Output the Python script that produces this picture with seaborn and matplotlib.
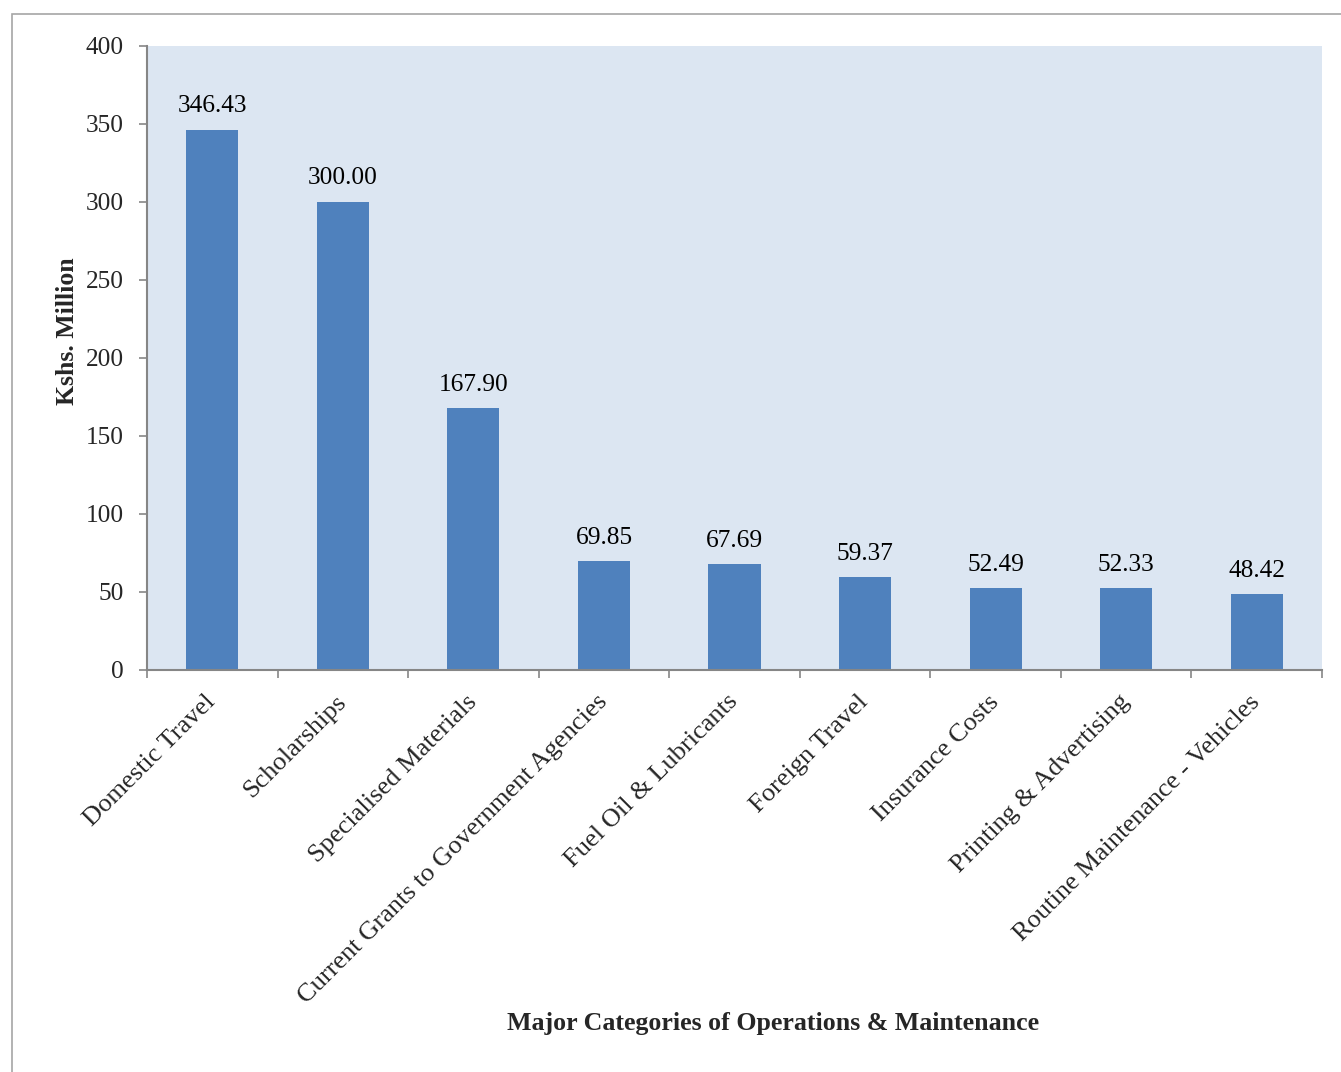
import matplotlib
matplotlib.use("Agg")
import matplotlib.pyplot as plt
from matplotlib.patches import Rectangle
import numpy as np
import pandas as pd
import seaborn as sns

categories = [
    "Domestic Travel",
    "Scholarships",
    "Specialised Materials",
    "Current Grants to Government Agencies",
    "Fuel Oil & Lubricants",
    "Foreign Travel",
    "Insurance Costs",
    "Printing & Advertising",
    "Routine Maintenance - Vehicles",
]
values = [346.43, 300.00, 167.90, 69.85, 67.69, 59.37, 52.49, 52.33, 48.42]
y_ticks = [0, 50, 100, 150, 200, 250, 300, 350, 400]

df = pd.DataFrame({"category": categories, "value": values})

sns.set_theme(style="white")
plt.rcParams["font.family"] = ["Liberation Serif", "DejaVu Serif"]

W, H = 1341, 1072
fig = plt.figure(figsize=(W / 100, H / 100), dpi=100)
fig.patch.set_facecolor("white")

# outer frame of the chart area
fig.patches.append(Rectangle((12 / W, -0.1), 1.2, (H - 14) / H + 0.1,
                             transform=fig.transFigure, fill=False,
                             edgecolor="#A6A6A6", linewidth=1.2, zorder=0))

ax = fig.add_axes([147 / W, (H - 670) / H, (1322 - 147) / W, (670 - 46) / H])
ax.set_facecolor("#DCE6F2")

sns.barplot(data=df, x="category", y="value", color="#4F81BD", saturation=1,
            width=0.4, ax=ax, edgecolor="none")

for i, v in enumerate(values):
    ax.annotate(f"{v:.2f}", (i, v), xytext=(0, 9), textcoords="offset points",
                ha="center", va="bottom", fontsize=18.3, color="black")

ax.set_xlim(-0.5, len(categories) - 0.5)
ax.set_ylim(0, 400)
ax.set_yticks(y_ticks)
ax.set_yticklabels([str(t) for t in y_ticks], fontsize=18.3)

gray = "#868686"
for side in ["top", "right"]:
    ax.spines[side].set_visible(False)
for side in ["left", "bottom"]:
    ax.spines[side].set_color(gray)
    ax.spines[side].set_linewidth(1.5)

ax.tick_params(axis="y", which="major", direction="out", length=6, width=1.2,
               color=gray, pad=10.5, left=True)
ax.set_xticks(np.arange(len(categories)))
ax.set_xticklabels(categories, rotation=45, ha="right", va="center",
                   rotation_mode="anchor", fontsize=19)
ax.set_xticks(np.arange(-0.5, len(categories)), minor=True)
ax.tick_params(axis="x", which="major", length=0, pad=20.5)
ax.tick_params(axis="x", which="minor", direction="out", length=6, width=1.2,
               color=gray, bottom=True)

ax.set_xlabel("Major Categories of Operations & Maintenance", fontsize=18.6,
              fontweight="bold", labelpad=0)
ax.xaxis.set_label_coords((773 - 147) / (1322 - 147), -(1012 - 670) / (670 - 46))
ax.set_ylabel("Kshs. Million", fontsize=18.5, fontweight="bold")
ax.yaxis.set_label_coords(-(147 - 79) / (1322 - 147), (670 - 331) / (670 - 46))

fig.savefig("out.png", dpi=100)
